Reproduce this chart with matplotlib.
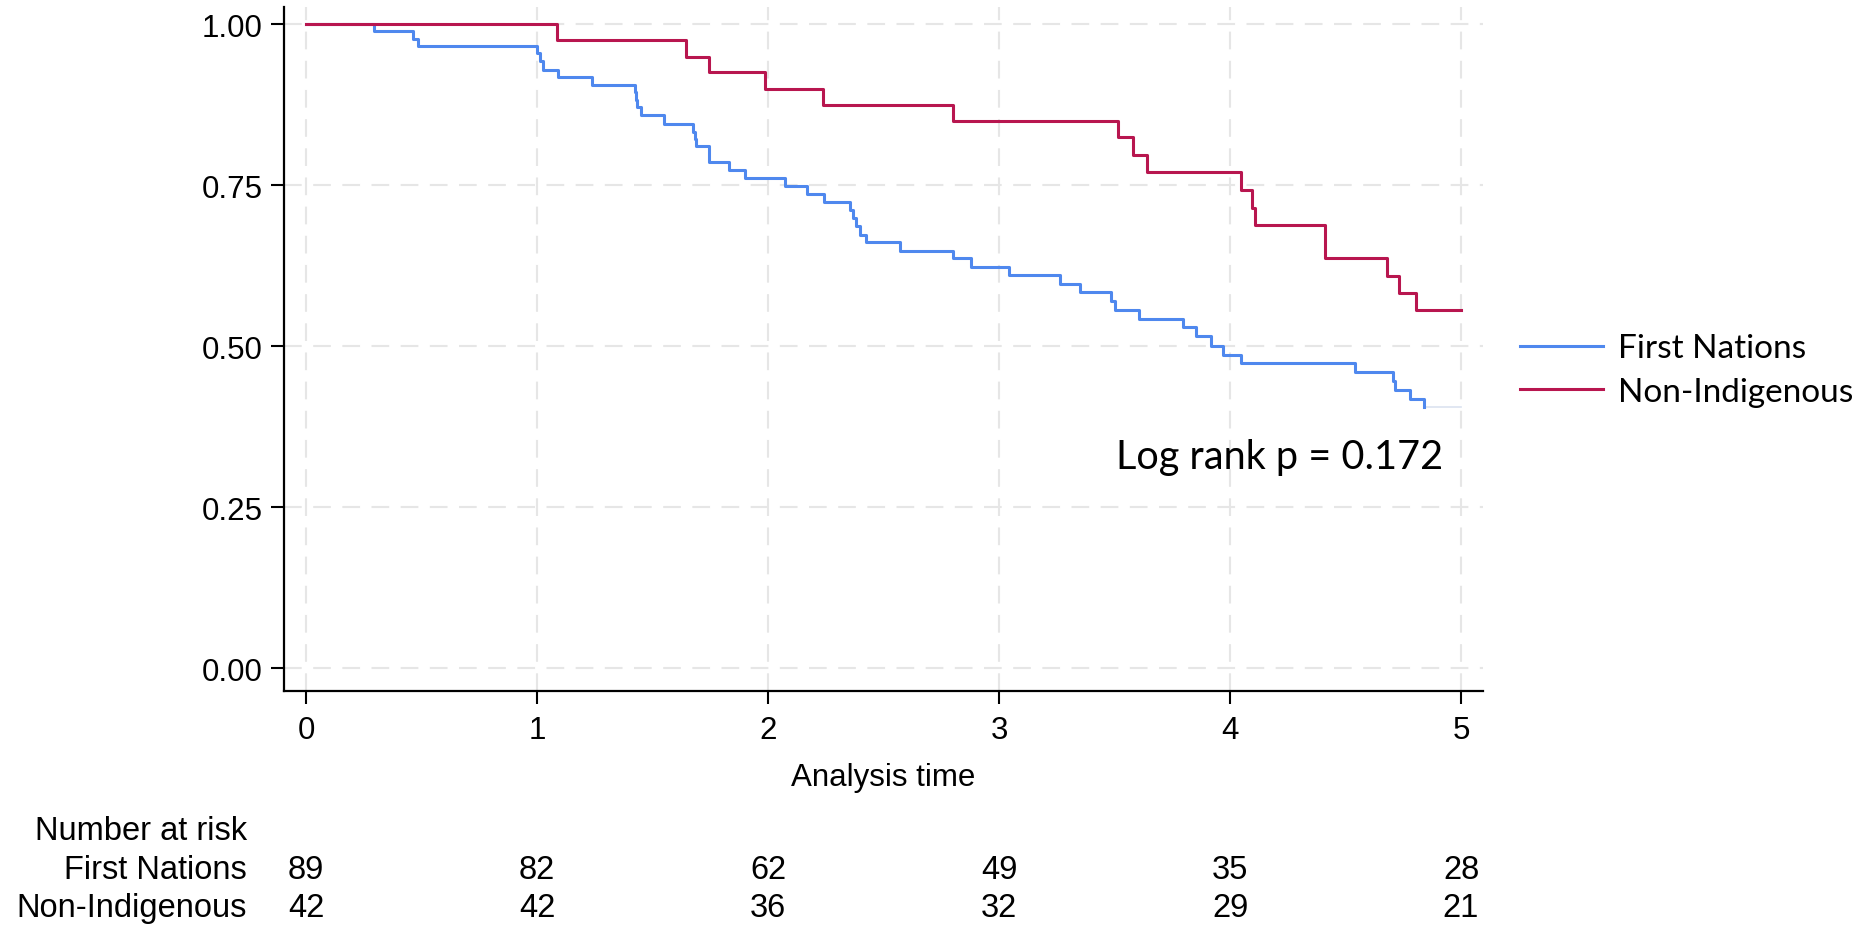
import matplotlib
matplotlib.use("Agg")
import matplotlib.pyplot as plt
from matplotlib.transforms import blended_transform_factory

plt.rcParams['font.family'] = ['Liberation Sans', 'DejaVu Sans']

# step times and survival values
fn_times = [0, 0.294, 0.465, 0.486, 1.00, 1.012, 1.025, 1.09, 1.237,
            1.423, 1.428, 1.432, 1.45, 1.55, 1.675, 1.685, 1.69, 1.745,
            1.83, 1.90, 2.074, 2.167, 2.243, 2.356, 2.368, 2.383, 2.399,
            2.422, 2.572, 2.80, 2.88, 3.043, 3.265, 3.35, 3.485, 3.503,
            3.604, 3.797, 3.853, 3.918, 3.971, 4.048, 4.541, 4.704, 4.713,
            4.779, 4.841]
fn_surv = [1.0, 0.989, 0.977, 0.966, 0.955, 0.943, 0.929, 0.918, 0.906,
           0.894, 0.882, 0.871, 0.858, 0.845, 0.833, 0.822, 0.810, 0.785,
           0.773, 0.761, 0.748, 0.736, 0.7235, 0.711, 0.698, 0.686, 0.673,
           0.661, 0.648, 0.636, 0.623, 0.610, 0.597, 0.584, 0.570, 0.5565,
           0.5425, 0.529, 0.515, 0.500, 0.4865, 0.4736, 0.4596, 0.446, 0.432,
           0.418, 0.406]
fn_end = 5.0

ni_times = [0, 1.087, 1.644, 1.745, 1.987, 2.237, 2.80, 3.516, 3.578, 3.64,
            4.046, 4.095, 4.108, 4.410, 4.413, 4.678, 4.733, 4.805]
ni_surv = [1.0, 0.975, 0.949, 0.925, 0.899, 0.874, 0.850, 0.824, 0.797, 0.770,
           0.742, 0.715, 0.688, 0.662, 0.636, 0.609, 0.582, 0.556]
ni_end = 5.0

risk_times = [0, 1, 2, 3, 4, 5]
risk_fn = [89, 82, 62, 49, 35, 28]
risk_ni = [42, 42, 36, 32, 29, 21]

blue = '#4f88ee'
red = '#b8164f'
W, H = 1867, 928

fig = plt.figure(figsize=(W / 100, H / 100), dpi=100)
ax = fig.add_axes([284 / W, 1 - 692 / H, (1483 - 284) / W, (692 - 8) / H])

ax.step(fn_times + [fn_times[-1]], fn_surv + [fn_surv[-1]], where='post',
        color=blue, lw=2.2, label='First Nations', zorder=3)
# faint tail of the blue curve after the last observation
ax.plot([fn_times[-1], fn_end], [fn_surv[-1], fn_surv[-1]], color='#dbe3f0', lw=1.2, zorder=2)
ax.step(ni_times + [ni_end], ni_surv + [ni_surv[-1]], where='post',
        color=red, lw=2.2, label='Non-Indigenous', zorder=3)

ax.set_xlim(-0.0952, 5.095)
ax.set_ylim(-0.0357, 1.0264)
ax.set_xticks(risk_times)
ax.set_yticks([0, 0.25, 0.5, 0.75, 1.0])
ax.set_yticklabels(['0.00', '0.25', '0.50', '0.75', '1.00'])
ax.grid(True, color='#e6e6e6', ls=(0, (8.5, 5.5)), lw=1.5)
ax.set_axisbelow(True)
for s in ['top', 'right']:
    ax.spines[s].set_visible(False)
for s in ['left', 'bottom']:
    ax.spines[s].set_linewidth(1.6)
ax.tick_params(axis='both', direction='out', length=9.5, width=1.5, labelsize=22.5)
ax.tick_params(axis='y', pad=6)
ax.tick_params(axis='x', pad=8)
ax.set_xlabel('Analysis time', fontsize=22.5, labelpad=12)

leg = fig.legend(*ax.get_legend_handles_labels(), loc='center left',
                 bbox_to_anchor=(1520 / W, 1 - 371 / H), frameon=False,
                 prop={'family': 'Lato', 'size': 24}, handlelength=2.5,
                 handletextpad=0.45, labelspacing=0.4, borderpad=0,
                 borderaxespad=0)

fig.text(1443 / W, 1 - 458 / H, 'Log rank p = 0.172', ha='right', va='center',
         fontsize=28.5, family='Lato')

# number at risk table
rows_y = [832, 871, 909]
tr = blended_transform_factory(ax.transData, fig.transFigure)
fig.text(247 / W, 1 - rows_y[0] / H, 'Number at risk', ha='right', va='center', fontsize=23.5)
fig.text(247 / W, 1 - rows_y[1] / H, 'First Nations', ha='right', va='center', fontsize=23.5)
fig.text(247 / W, 1 - rows_y[2] / H, 'Non-Indigenous', ha='right', va='center', fontsize=23.5)
for t, a, b in zip(risk_times, risk_fn, risk_ni):
    ax.text(t, 1 - rows_y[1] / H, str(a), transform=tr, ha='center', va='center', fontsize=23.5)
    ax.text(t, 1 - rows_y[2] / H, str(b), transform=tr, ha='center', va='center', fontsize=23.5)

fig.savefig('out.png', dpi=100, facecolor='white')
